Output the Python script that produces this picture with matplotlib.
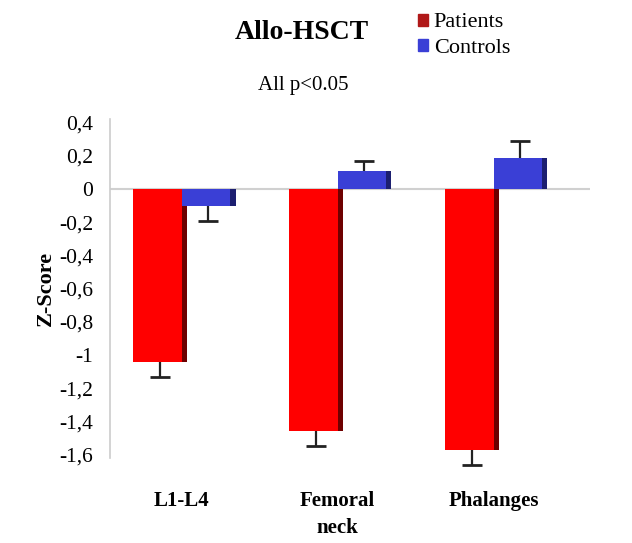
import numpy as np
import matplotlib.pyplot as plt
from matplotlib.patches import Patch

categories = ["L1-L4", "Femoral\nneck", "Phalanges"]
patients = [-1.04, -1.46, -1.57]
patients_err = [0.09, 0.09, 0.09]
controls = [-0.10, 0.11, 0.19]
controls_err = [0.09, 0.06, 0.10]

plt.rcParams['font.family'] = ['Liberation Serif', 'DejaVu Serif']

fig = plt.figure(figsize=(6.32, 5.43), dpi=100)
ax = fig.add_axes([0.174, 0.1565, 0.76, 0.6235])

x = np.arange(len(categories))
w = 0.31
red, dark_red = "#ff0000", "#6e0000"
blue, dark_blue = "#3a3fd6", "#1c1f70"

# zero line behind bars
ax.axhline(0, color="#d0d0d0", linewidth=1.5, zorder=0)

# shadow bars for a faux 3D look
ax.bar(x - w / 2 + 0.035, patients, w, color=dark_red, zorder=1)
ax.bar(x + w / 2 + 0.035, controls, w, color=dark_blue, zorder=1)
ax.bar(x - w / 2, patients, w, color=red, zorder=2)
ax.bar(x + w / 2, controls, w, color=blue, zorder=2)


# one-sided error bars pointing away from zero, cap only at the far end
def whiskers(xs, vals, errs):
    for xi, v, e in zip(xs, vals, errs):
        end = v - e if v < 0 else v + e
        ax.vlines(xi, v, end, color="#222222", linewidth=1.6, zorder=3, clip_on=False)
        ax.hlines(end, xi - 0.065, xi + 0.065, color="#222222", linewidth=2,
                  zorder=3, clip_on=False)


whiskers(x - w / 2 + 0.015, patients, patients_err)
whiskers(x + w / 2 + 0.015, controls, controls_err)

ax.set_xlim(-0.46, 2.62)
ax.set_ylim(-1.62, 0.42)
yt = np.arange(-1.6, 0.41, 0.2)
ax.set_yticks(yt)
labels = []
for v in yt:
    v = round(v, 1)
    labels.append("0" if v == 0 else ("%g" % v).replace(".", ","))
ax.set_yticklabels(labels, fontsize=15.5)
ax.set_xticks(x)
ax.set_xticklabels(categories, fontsize=15, fontweight="bold", linespacing=1.45)
ax.tick_params(axis="x", length=0, pad=24)
ax.tick_params(axis="y", length=0, pad=12)

for s in ["top", "right", "bottom"]:
    ax.spines[s].set_visible(False)
ax.spines["left"].set_color("#cccccc")
ax.spines["left"].set_linewidth(1.2)

ax.set_ylabel("Z-Score", fontsize=16, fontweight="bold", labelpad=2)

fig.text(0.478, 0.94, "Allo-HSCT", fontsize=20, fontweight="bold", ha="center", va="center")
fig.text(0.48, 0.843, "All p<0.05", fontsize=15, ha="center", va="center")

handles = [Patch(color="#b01818"), Patch(color=blue)]
fig.legend(handles, ["Patients", "Controls"], loc="upper left",
           bbox_to_anchor=(0.63, 1.012), frameon=False, fontsize=16,
           handlelength=0.45, handleheight=0.45, handletextpad=0.25, labelspacing=0.3)

fig.savefig("out.png", dpi=100)
